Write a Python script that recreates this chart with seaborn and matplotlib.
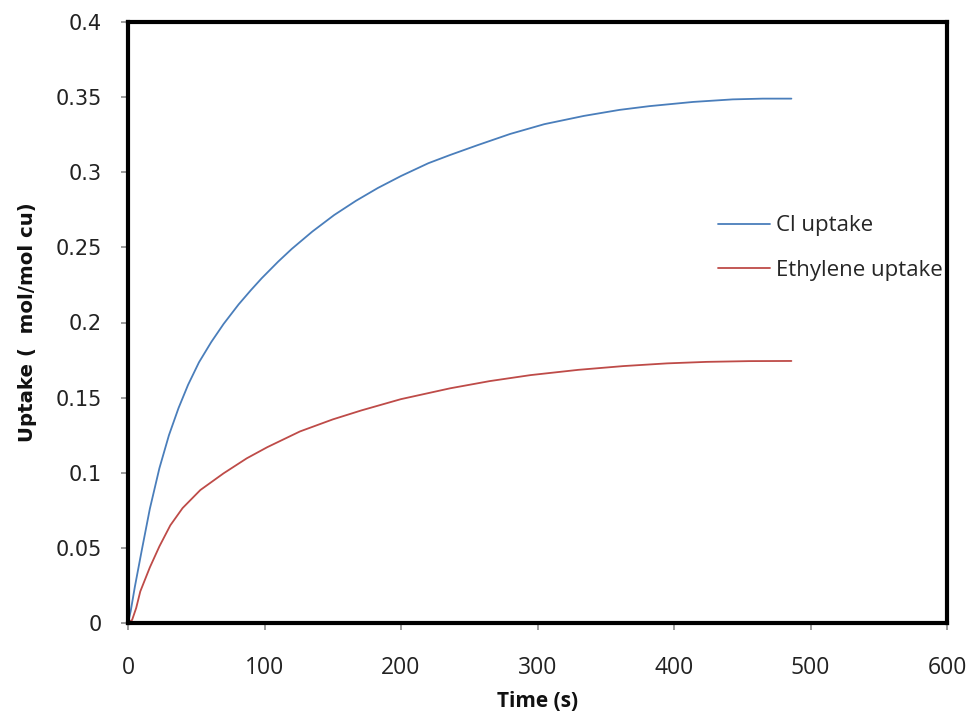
import matplotlib
matplotlib.use("Agg")
import matplotlib.pyplot as plt
import seaborn as sns
import pandas as pd

# Data
time_cl = [0, 2, 5, 10, 16, 23, 30, 37, 44, 52, 61, 70, 81, 90, 98, 110, 120, 135, 151, 167, 183, 200,
           220, 236, 256, 280, 305, 334, 360, 382, 414, 443, 465, 486]
cl_uptake = [0, 0.008, 0.024, 0.048, 0.076, 0.103, 0.125, 0.143, 0.1585, 0.1735, 0.187, 0.199, 0.212,
             0.2215, 0.2295, 0.2405, 0.249, 0.2605, 0.2715, 0.281, 0.2895, 0.2975, 0.306, 0.3115, 0.318,
             0.3255, 0.332, 0.3375, 0.3415, 0.344, 0.3468, 0.3485, 0.349, 0.349]

time_eth = [0, 3, 6, 9, 16, 23, 31, 40, 53, 70, 87, 102, 126, 150, 171, 200, 236, 265, 295, 330, 363,
            395, 424, 455, 486]
eth_uptake = [0, 0.002, 0.010, 0.021, 0.037, 0.051, 0.065, 0.0765, 0.0885, 0.0996, 0.1096, 0.117, 0.1275,
              0.1355, 0.1415, 0.149, 0.1562, 0.161, 0.165, 0.1685, 0.171, 0.1728, 0.1738, 0.1743, 0.1744]

series_names = ["Cl uptake", "Ethylene uptake"]
x_ticks = [0, 100, 200, 300, 400, 500, 600]
y_ticks = [0, 0.05, 0.1, 0.15, 0.2, 0.25, 0.3, 0.35, 0.4]
y_tick_labels = ["0", "0.05", "0.1", "0.15", "0.2", "0.25", "0.3", "0.35", "0.4"]

df = pd.concat([
    pd.DataFrame({"Time": time_cl, "Uptake": cl_uptake, "Series": series_names[0]}),
    pd.DataFrame({"Time": time_eth, "Uptake": eth_uptake, "Series": series_names[1]}),
])

sns.set_theme(style="white")
fig = plt.figure(figsize=(9.73, 7.19), dpi=100)
ax = fig.add_axes([128/973, 1-623/719, (947-128)/973, (623-22)/719])

palette = {series_names[0]: "#4A7EBB", series_names[1]: "#BE4B48"}
sns.lineplot(data=df, x="Time", y="Uptake", hue="Series", palette=palette,
             linewidth=1.3, ax=ax, legend=True)

ax.set_xlim(0, 600)
ax.set_ylim(0, 0.4)
ax.set_xticks(x_ticks)
ax.set_xticklabels([str(t) for t in x_ticks], fontfamily="Open Sans", fontsize=16.5, color="#222222")
ax.set_yticks(y_ticks)
ax.set_yticklabels(y_tick_labels, fontfamily="DejaVu Sans", fontsize=15, color="#222222")
ax.tick_params(axis="both", direction="out", length=5, width=1.2, color="#8c8c8c",
               bottom=True, left=True)
ax.tick_params(axis="y", pad=14)
ax.tick_params(axis="x", pad=19)

for s in ax.spines.values():
    s.set_visible(True)
    s.set_color("black")
    s.set_linewidth(3)

ax.set_xlabel("Time (s)", fontfamily="Open Sans", fontweight="bold", fontsize=15, labelpad=8,
              color="#111111")
ax.set_ylabel("Uptake (  mol/mol cu)", fontfamily="DejaVu Sans", fontweight="bold", fontsize=14.2,
              labelpad=13, color="#111111")

handles, labels = ax.get_legend_handles_labels()
ax.legend(handles=handles, labels=labels, loc="center left",
          bbox_to_anchor=(718/973, 1-248/719), bbox_transform=fig.transFigure,
          frameon=False, handlelength=2.35, handletextpad=0.27, labelspacing=1.05,
          borderpad=0, borderaxespad=0,
          prop={"family": "Open Sans", "size": 16})

fig.savefig("out.png", dpi=100)
